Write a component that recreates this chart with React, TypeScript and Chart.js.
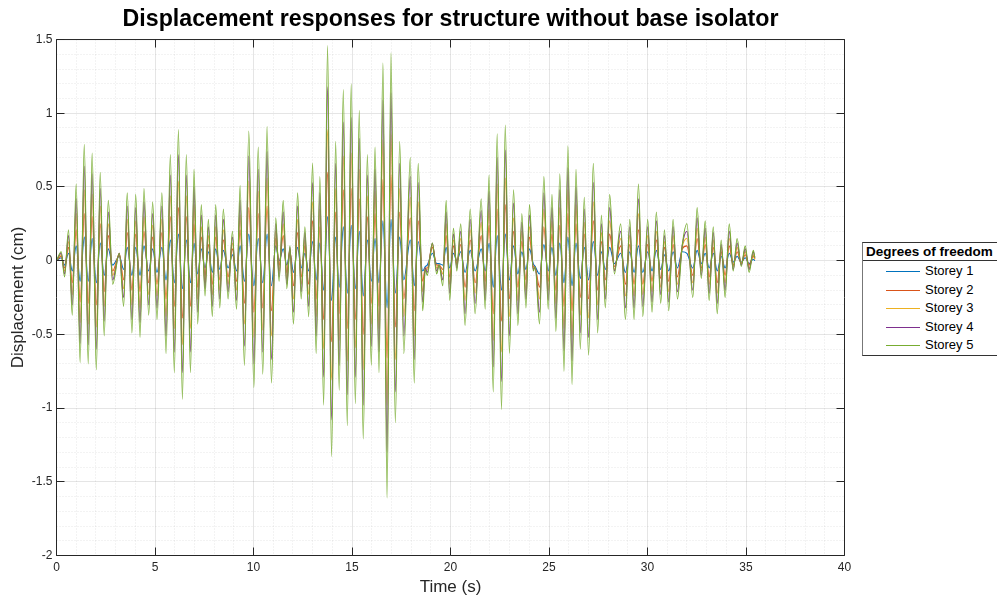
import React, { useEffect, useRef } from 'react';
import { Chart, registerables } from 'chart.js';

Chart.register(...registerables);

// Time (s) of each turning point of the response
const peakTimes = [
  0, 0.24, 0.41, 0.61, 0.8, 1.0, 1.2, 1.41, 1.61, 1.81, 2.02, 2.22, 2.42, 2.63, 2.85, 3.19, 3.41, 3.59, 3.83, 4.02, 4.24, 4.44, 4.68, 4.88,
  5.1, 5.35, 5.56, 5.78, 5.98, 6.19, 6.39, 6.59, 6.8, 6.98, 7.17, 7.35, 7.54, 7.71, 7.91, 8.08, 8.29, 8.47, 8.71, 8.93, 9.14, 9.32, 9.54, 9.76,
  10.02, 10.24, 10.47, 10.69, 10.91, 11.13, 11.3, 11.51, 11.69, 11.85, 12.03, 12.24, 12.42, 12.61, 12.8, 13.0, 13.18, 13.37, 13.56, 13.76, 13.96, 14.17, 14.35, 14.56, 14.76, 14.96,
  15.17, 15.37, 15.57, 15.78, 15.98, 16.17, 16.37, 16.57, 16.78, 16.98, 17.2, 17.42, 17.63, 17.96, 18.16, 18.36, 18.59, 18.72, 18.82, 19.08, 19.3, 19.42, 19.61, 19.78, 19.96,
  20.15, 20.32, 20.52, 20.74, 21.0, 21.25, 21.56, 21.76, 21.96, 22.17, 22.37, 22.59, 22.78, 22.99, 23.2, 23.42, 23.62, 23.83, 24.01, 24.2, 24.3, 24.52, 24.74, 24.96,
  25.15, 25.35, 25.55, 25.76, 25.96, 26.17, 26.37, 26.59, 26.79, 27.01, 27.25, 27.47, 27.66, 27.86, 28.08, 28.32, 28.64, 28.88, 29.1, 29.32, 29.54, 29.76,
  30.01, 30.23, 30.45, 30.67, 30.86, 31.08, 31.3, 31.52, 31.76, 32.0, 32.3, 32.52, 32.73, 32.93, 33.13, 33.34, 33.54, 33.74, 33.94, 34.15, 34.35, 34.55, 34.76, 34.96, 35.16, 35.37, 35.45,
];

// Displacement (cm) at those turning points, one list per storey
const storey1 = [
  0, 0.02, -0.03, 0.05, -0.07, 0.1, -0.14, 0.16, -0.14, 0.15, -0.15, 0.12, -0.1, 0.08, -0.03, 0.03, -0.06, 0.09, -0.1, 0.09, -0.1, 0.1, -0.07, 0.08,
  -0.08, 0.09, -0.13, 0.14, -0.15, 0.18, -0.19, 0.14, -0.15, 0.12, -0.09, 0.08, -0.05, 0.06, -0.08, 0.08, -0.06, 0.07, -0.05, 0.04, -0.07, 0.1, -0.14, 0.18,
  -0.17, 0.15, -0.15, 0.18, -0.17, 0.1, 0.0, 0.08, -0.03, 0.05, -0.08, 0.09, -0.05, 0.05, -0.07, 0.13, -0.13, 0.12, -0.2, 0.3, -0.27, 0.16, -0.18, 0.23, -0.22, 0.24,
  -0.19, 0.2, -0.24, 0.14, -0.14, 0.15, -0.15, 0.27, -0.32, 0.28, -0.22, 0.16, -0.13, 0.14, -0.17, 0.13, -0.07, -0.04, -0.03, 0.05, -0.02, -0.02, -0.03, 0.09, -0.05,
  0.05, 0.0, 0.06, -0.08, 0.07, -0.07, 0.08, -0.07, 0.12, -0.18, 0.17, -0.2, 0.18, -0.13, 0.1, -0.09, 0.06, -0.06, 0.08, -0.02, -0.04, -0.09, 0.11, -0.07,
  0.09, -0.1, 0.12, -0.15, 0.16, -0.17, 0.12, -0.12, 0.09, -0.13, 0.13, -0.1, 0.06, -0.06, 0.09, -0.02, 0.05, -0.08, 0.06, -0.08, 0.1, -0.08,
  0.06, -0.07, 0.07, -0.06, 0.04, -0.07, 0.06, -0.05, 0.06, 0.05, -0.05, 0.07, -0.02, 0.05, -0.05, 0.05, -0.07, 0.03, -0.05, 0.05, -0.01, 0.03, -0.01, 0.02, -0.02, 0.01, 0.0,
];
const storey2 = [
  0, 0.03, -0.05, 0.09, -0.15, 0.21, -0.28, 0.32, -0.29, 0.3, -0.3, 0.25, -0.21, 0.17, -0.07, 0.04, -0.13, 0.19, -0.2, 0.18, -0.21, 0.2, -0.15, 0.16,
  -0.16, 0.19, -0.26, 0.3, -0.31, 0.36, -0.39, 0.3, -0.31, 0.25, -0.18, 0.16, -0.1, 0.11, -0.16, 0.16, -0.13, 0.14, -0.11, 0.08, -0.14, 0.21, -0.29, 0.36,
  -0.35, 0.32, -0.32, 0.37, -0.34, 0.15, -0.03, 0.17, -0.08, 0.07, -0.17, 0.19, -0.11, 0.1, -0.16, 0.27, -0.26, 0.23, -0.4, 0.6, -0.55, 0.33, -0.36, 0.48, -0.46, 0.49,
  -0.4, 0.42, -0.5, 0.3, -0.29, 0.32, -0.31, 0.55, -0.66, 0.58, -0.45, 0.33, -0.26, 0.29, -0.34, 0.27, -0.14, -0.05, -0.05, 0.09, -0.03, -0.03, -0.06, 0.17, -0.11,
  0.1, -0.02, 0.11, -0.18, 0.14, -0.15, 0.17, -0.14, 0.24, -0.36, 0.35, -0.41, 0.38, -0.26, 0.2, -0.18, 0.13, -0.13, 0.16, -0.04, -0.05, -0.18, 0.23, -0.14,
  0.18, -0.2, 0.24, -0.31, 0.32, -0.34, 0.25, -0.25, 0.18, -0.26, 0.27, -0.2, 0.13, -0.13, 0.18, -0.04, 0.1, -0.16, 0.11, -0.16, 0.21, -0.16,
  0.11, -0.14, 0.14, -0.12, 0.09, -0.14, 0.11, -0.11, 0.08, 0.1, -0.1, 0.15, -0.05, 0.11, -0.11, 0.09, -0.15, 0.06, -0.1, 0.1, -0.03, 0.06, -0.02, 0.04, -0.03, 0.03, 0.01,
];
const storey3 = [
  0, 0.04, -0.07, 0.13, -0.23, 0.32, -0.42, 0.48, -0.43, 0.45, -0.45, 0.37, -0.31, 0.25, -0.1, 0.05, -0.19, 0.28, -0.3, 0.27, -0.32, 0.3, -0.23, 0.24,
  -0.24, 0.28, -0.38, 0.44, -0.46, 0.54, -0.57, 0.44, -0.46, 0.38, -0.26, 0.23, -0.15, 0.17, -0.23, 0.23, -0.2, 0.21, -0.16, 0.12, -0.2, 0.31, -0.43, 0.54,
  -0.52, 0.47, -0.47, 0.56, -0.51, 0.2, -0.07, 0.25, -0.12, 0.08, -0.26, 0.28, -0.16, 0.14, -0.23, 0.4, -0.38, 0.35, -0.6, 0.89, -0.81, 0.49, -0.54, 0.71, -0.68, 0.73,
  -0.59, 0.62, -0.74, 0.44, -0.43, 0.47, -0.46, 0.82, -0.98, 0.86, -0.67, 0.49, -0.38, 0.43, -0.51, 0.4, -0.21, -0.05, -0.06, 0.11, -0.05, -0.03, -0.09, 0.25, -0.16,
  0.14, -0.03, 0.15, -0.27, 0.21, -0.22, 0.26, -0.2, 0.35, -0.54, 0.52, -0.62, 0.56, -0.38, 0.29, -0.27, 0.2, -0.2, 0.23, -0.05, -0.05, -0.26, 0.35, -0.2,
  0.27, -0.29, 0.36, -0.46, 0.48, -0.51, 0.38, -0.37, 0.26, -0.39, 0.4, -0.3, 0.19, -0.2, 0.27, -0.06, 0.15, -0.24, 0.17, -0.24, 0.32, -0.23,
  0.17, -0.21, 0.2, -0.18, 0.13, -0.21, 0.17, -0.16, 0.09, 0.15, -0.15, 0.22, -0.07, 0.16, -0.16, 0.14, -0.22, 0.09, -0.15, 0.15, -0.04, 0.09, -0.02, 0.06, -0.05, 0.04, 0.01,
];
const storey4 = [
  0, 0.05, -0.09, 0.17, -0.3, 0.42, -0.56, 0.64, -0.57, 0.59, -0.6, 0.49, -0.41, 0.33, -0.13, 0.05, -0.25, 0.37, -0.4, 0.36, -0.42, 0.4, -0.3, 0.32,
  -0.32, 0.37, -0.51, 0.58, -0.62, 0.72, -0.76, 0.58, -0.62, 0.5, -0.35, 0.31, -0.19, 0.23, -0.31, 0.31, -0.26, 0.28, -0.21, 0.16, -0.27, 0.41, -0.58, 0.71,
  -0.7, 0.62, -0.62, 0.74, -0.67, 0.25, -0.11, 0.33, -0.16, 0.09, -0.35, 0.37, -0.21, 0.19, -0.31, 0.53, -0.51, 0.46, -0.79, 1.18, -1.08, 0.66, -0.71, 0.94, -0.91, 0.97,
  -0.79, 0.83, -0.98, 0.58, -0.58, 0.62, -0.62, 1.09, -1.3, 1.14, -0.89, 0.66, -0.51, 0.57, -0.67, 0.53, -0.28, -0.05, -0.08, 0.12, -0.07, -0.03, -0.13, 0.33, -0.22,
  0.18, -0.05, 0.2, -0.36, 0.28, -0.29, 0.34, -0.27, 0.47, -0.72, 0.7, -0.82, 0.75, -0.51, 0.39, -0.36, 0.26, -0.26, 0.31, -0.06, -0.04, -0.35, 0.46, -0.27,
  0.36, -0.39, 0.48, -0.61, 0.63, -0.68, 0.5, -0.49, 0.35, -0.52, 0.53, -0.4, 0.25, -0.26, 0.36, -0.07, 0.2, -0.32, 0.23, -0.32, 0.42, -0.31,
  0.23, -0.28, 0.27, -0.23, 0.17, -0.28, 0.23, -0.21, 0.1, 0.2, -0.2, 0.29, -0.1, 0.22, -0.22, 0.19, -0.29, 0.11, -0.2, 0.2, -0.06, 0.12, -0.03, 0.08, -0.06, 0.06, 0.02,
];
const storey5 = [
  0, 0.06, -0.11, 0.21, -0.37, 0.52, -0.69, 0.79, -0.7, 0.73, -0.74, 0.6, -0.51, 0.41, -0.16, 0.05, -0.31, 0.46, -0.49, 0.45, -0.52, 0.49, -0.37, 0.4,
  -0.4, 0.46, -0.63, 0.72, -0.76, 0.89, -0.94, 0.72, -0.76, 0.62, -0.43, 0.38, -0.24, 0.28, -0.38, 0.38, -0.32, 0.35, -0.26, 0.2, -0.33, 0.51, -0.71, 0.88,
  -0.86, 0.77, -0.77, 0.91, -0.83, 0.29, -0.14, 0.41, -0.19, 0.1, -0.43, 0.46, -0.26, 0.23, -0.38, 0.66, -0.63, 0.57, -0.98, 1.46, -1.33, 0.81, -0.88, 1.16, -1.12, 1.2,
  -0.97, 1.02, -1.21, 0.72, -0.71, 0.77, -0.76, 1.34, -1.61, 1.41, -1.1, 0.81, -0.63, 0.7, -0.83, 0.66, -0.34, -0.06, -0.1, 0.12, -0.09, -0.03, -0.17, 0.41, -0.27,
  0.22, -0.07, 0.25, -0.44, 0.35, -0.36, 0.42, -0.33, 0.58, -0.89, 0.86, -1.01, 0.92, -0.63, 0.48, -0.44, 0.32, -0.32, 0.38, -0.07, -0.04, -0.43, 0.57, -0.33,
  0.45, -0.48, 0.59, -0.75, 0.78, -0.84, 0.62, -0.6, 0.43, -0.64, 0.66, -0.49, 0.31, -0.32, 0.45, -0.09, 0.25, -0.4, 0.28, -0.4, 0.52, -0.38,
  0.28, -0.35, 0.33, -0.29, 0.21, -0.34, 0.28, -0.26, 0.1, 0.25, -0.25, 0.36, -0.12, 0.27, -0.27, 0.23, -0.36, 0.14, -0.25, 0.25, -0.07, 0.15, -0.04, 0.1, -0.08, 0.07, 0.02,
];

const seriesNames = ['Storey 1', 'Storey 2', 'Storey 3', 'Storey 4', 'Storey 5'];
const seriesValues = [storey1, storey2, storey3, storey4, storey5];
const seriesColors = ['#0072BD', '#D95319', '#EDB120', '#7E2F8E', '#77AC30'];

const chartTitle = 'Displacement responses for structure without base isolator';
const xTitle = 'Time (s)';
const yTitle = 'Displacement (cm)';
const legendTitle = 'Degrees of freedom';

const X_MIN = 0, X_MAX = 40, X_MAJOR = 5, X_MINOR = 1;
const Y_MIN = -2, Y_MAX = 1.5, Y_MAJOR = 0.5, Y_MINOR = 0.1;

const FONT = '"Liberation Sans", Arial, Helvetica, sans-serif';
const AXIS_COLOR = '#262626';

const matlabAxes = {
  id: 'matlabAxes',
  beforeDatasetsDraw(chart: any) {
    const { ctx, chartArea, scales } = chart;
    const xs = scales.x, ys = scales.y;
    const { left, right, top, bottom } = chartArea;
    ctx.save();
    ctx.lineWidth = 1;
    // minor grid (dotted)
    ctx.strokeStyle = 'rgba(38,38,38,0.11)';
    ctx.setLineDash([1, 2]);
    ctx.beginPath();
    const xMinorCount = Math.round((X_MAX - X_MIN) / X_MINOR);
    const perMajorX = Math.round(X_MAJOR / X_MINOR);
    for (let k = 0; k <= xMinorCount; k++) {
      if (k % perMajorX === 0) continue;
      const px = Math.floor(xs.getPixelForValue(X_MIN + k * X_MINOR)) + 0.5;
      ctx.moveTo(px, top);
      ctx.lineTo(px, bottom);
    }
    const yMinorCount = Math.round((Y_MAX - Y_MIN) / Y_MINOR);
    const perMajorY = Math.round(Y_MAJOR / Y_MINOR);
    for (let k = 0; k <= yMinorCount; k++) {
      if (k % perMajorY === 0) continue;
      const py = Math.floor(ys.getPixelForValue(Y_MIN + k * Y_MINOR)) + 0.5;
      ctx.moveTo(left, py);
      ctx.lineTo(right, py);
    }
    ctx.stroke();
    // major grid (solid)
    ctx.setLineDash([]);
    ctx.strokeStyle = 'rgba(38,38,38,0.12)';
    ctx.beginPath();
    for (let k = 0; k <= xMinorCount; k += perMajorX) {
      const px = Math.floor(xs.getPixelForValue(X_MIN + k * X_MINOR)) + 0.5;
      ctx.moveTo(px, top);
      ctx.lineTo(px, bottom);
    }
    for (let k = 0; k <= yMinorCount; k += perMajorY) {
      const py = Math.floor(ys.getPixelForValue(Y_MIN + k * Y_MINOR)) + 0.5;
      ctx.moveTo(left, py);
      ctx.lineTo(right, py);
    }
    ctx.stroke();
    ctx.restore();
  },
  afterDatasetsDraw(chart: any) {
    const { ctx, chartArea, scales } = chart;
    const xs = scales.x, ys = scales.y;
    const { left, right, top, bottom } = chartArea;
    const tl = 8;
    ctx.save();
    ctx.strokeStyle = AXIS_COLOR;
    ctx.lineWidth = 1;
    ctx.beginPath();
    ctx.rect(left, top, right - left, bottom - top);
    const xMajorCount = Math.round((X_MAX - X_MIN) / X_MAJOR);
    for (let k = 0; k <= xMajorCount; k++) {
      const px = Math.floor(xs.getPixelForValue(X_MIN + k * X_MAJOR)) + 0.5;
      ctx.moveTo(px, bottom);
      ctx.lineTo(px, bottom - tl);
      ctx.moveTo(px, top);
      ctx.lineTo(px, top + tl);
    }
    const yMajorCount = Math.round((Y_MAX - Y_MIN) / Y_MAJOR);
    for (let k = 0; k <= yMajorCount; k++) {
      const py = Math.floor(ys.getPixelForValue(Y_MIN + k * Y_MAJOR)) + 0.5;
      ctx.moveTo(left, py);
      ctx.lineTo(left + tl, py);
      ctx.moveTo(right, py);
      ctx.lineTo(right - tl, py);
    }
    ctx.stroke();
    ctx.restore();
  },
};

export default function App() {
  const canvasRef = useRef<HTMLCanvasElement | null>(null);

  useEffect(() => {
    const canvas = canvasRef.current;
    if (!canvas) return;
    const datasets = seriesNames.map((name, i) => ({
      label: name,
      data: peakTimes.map((t, j) => ({ x: t, y: seriesValues[i][j] })),
      borderColor: seriesColors[i],
      backgroundColor: seriesColors[i],
      borderWidth: 1.1,
      pointRadius: 0,
      fill: false,
      cubicInterpolationMode: 'monotone' as const,
      order: seriesNames.length - 1 - i,
    }));
    const chart = new Chart(canvas, {
      type: 'line',
      data: { datasets },
      plugins: [matlabAxes],
      options: {
        animation: false,
        responsive: false,
        devicePixelRatio: 1,
        layout: { padding: { left: 0, right: 152.5, top: 0, bottom: 0 } },
        plugins: {
          legend: { display: false },
          tooltip: { enabled: false },
          title: {
            display: true,
            text: chartTitle,
            fullSize: false,
            color: '#000',
            font: { family: FONT, size: 23.2, weight: 'bold', lineHeight: 1.2 },
            padding: { top: 5.9, bottom: 5.8 },
          },
        },
        scales: {
          x: {
            type: 'linear',
            min: X_MIN,
            max: X_MAX,
            afterFit: (s: any) => { s.height = 40.5; },
            grid: { display: false, drawTicks: false },
            border: { display: false },
            ticks: {
              stepSize: X_MAJOR,
              autoSkip: false,
              maxRotation: 0,
              padding: 5,
              color: AXIS_COLOR,
              font: { family: FONT, size: 12 },
              callback: (v: any) => String(v),
            },
            title: {
              display: true,
              text: xTitle,
              color: AXIS_COLOR,
              font: { family: FONT, size: 17, lineHeight: 1 },
              padding: 0,
            },
          },
          y: {
            type: 'linear',
            min: Y_MIN,
            max: Y_MAX,
            afterFit: (s: any) => { s.width = 56.5; },
            grid: { display: false, drawTicks: false },
            border: { display: false },
            ticks: {
              stepSize: Y_MAJOR,
              autoSkip: false,
              padding: 4,
              color: AXIS_COLOR,
              font: { family: FONT, size: 12 },
              callback: (v: any) => String(v),
            },
            title: {
              display: true,
              text: yTitle,
              color: AXIS_COLOR,
              font: { family: FONT, size: 17, lineHeight: 1 },
              padding: 10,
            },
          },
        },
      },
    } as any);
    return () => chart.destroy();
  }, []);

  const rowTops = [19, 38, 56, 75, 93];

  return (
    <div style={{ position: 'fixed', left: 0, top: 0, width: 997, height: 596, overflow: 'hidden', background: '#fff' }}>
      <canvas ref={canvasRef} width={997} height={596} style={{ position: 'absolute', left: 0, top: 0, width: 997, height: 596, display: 'block' }} />
      <div
        style={{
          position: 'absolute', left: 862, top: 242, width: 140, height: 114,
          boxSizing: 'border-box', border: '1px solid #333', borderLeftColor: '#777',
          background: '#fff', fontFamily: FONT,
        }}
      >
        <div
          style={{
            position: 'absolute', left: 0, top: 0, width: '100%', height: 18,
            boxSizing: 'border-box', borderBottom: '1px solid #333',
            fontWeight: 'bold', fontSize: 13.5, lineHeight: '17px', paddingLeft: 3,
            color: '#000', whiteSpace: 'nowrap',
          }}
        >
          {legendTitle}
        </div>
        {seriesNames.map((name, i) => (
          <div key={name} style={{ position: 'absolute', left: 0, top: rowTops[i], width: '100%', height: 18 }}>
            <div style={{ position: 'absolute', left: 23, top: 9, width: 34, height: 1, background: seriesColors[i] }} />
            <div style={{ position: 'absolute', left: 62, top: 0, height: 18, lineHeight: '18px', fontSize: 13, color: '#000', whiteSpace: 'nowrap' }}>
              {name}
            </div>
          </div>
        ))}
      </div>
    </div>
  );
}
